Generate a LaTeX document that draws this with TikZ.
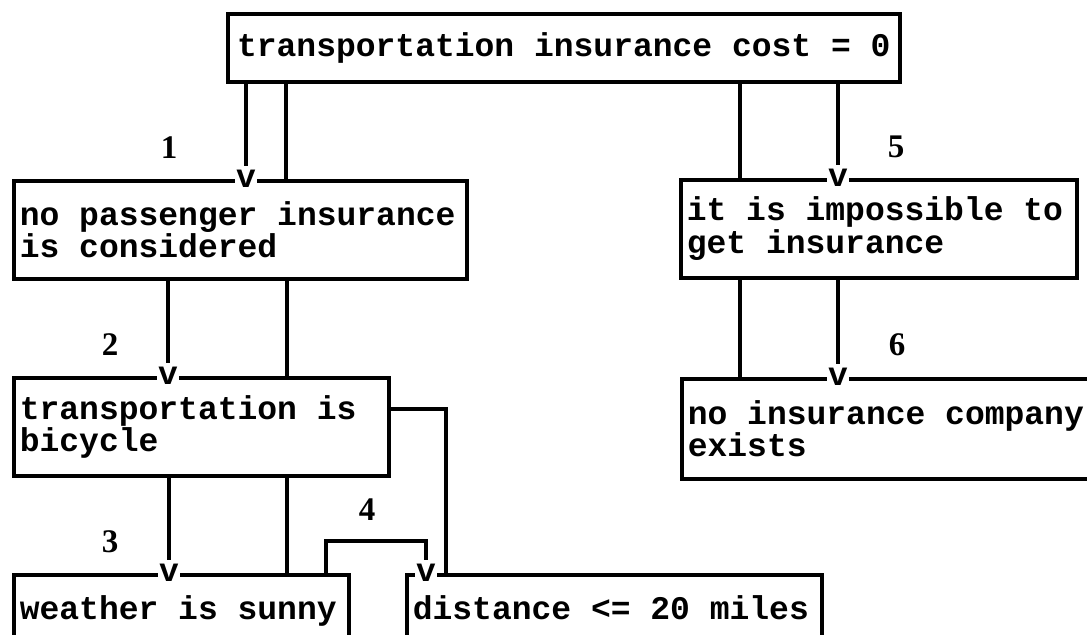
\documentclass[tikz,border=0pt]{standalone}
\usepackage{fontspec}
\setmainfont{Liberation Serif}
\setmonofont{Liberation Mono}
\usepackage{tikz}

\tikzset{
  box/.style={draw, line width=1.8pt, anchor=north west, inner xsep=3pt, inner ysep=0pt,
    align=left, font=\ttfamily\bfseries\fontsize{16.5}{16.3}\selectfont,
    execute at begin node={\spaceskip=0.6em\xspaceskip=0.6em\relax}},
  vtip/.style={fill=white, inner xsep=0.6pt, inner ysep=0pt,
    font=\ttfamily\bfseries\fontsize{16.5}{16.3}\selectfont},
  num/.style={font=\bfseries\fontsize{16.5}{16.3}\selectfont},
  link/.style={line width=1.8pt},
}

\begin{document}
\begin{tikzpicture}[x=0.5pt, y=-0.5pt]
  \clip (0,0) rectangle (1087,635);
  % The boxes
  \node[box, minimum width=336pt, minimum height=34pt, align=center] (cost) at (226,12)
    {transportation insurance cost = 0};
  \node[box, minimum width=226.5pt, minimum height=49pt, text width=220.5pt] (passenger) at (12,179)
    {no passenger insurance\\is considered};
  \node[box, minimum width=198pt, minimum height=49pt, text width=192pt] (impossible) at (679,178)
    {it is impossible to\\get insurance};
  \node[box, minimum width=187.5pt, minimum height=49pt, text width=181.5pt] (bicycle) at (12,376)
    {transportation is\\bicycle};
  \node[box, minimum width=225pt, minimum height=50pt, text width=219pt] (company) at (680,377)
    {no insurance company\\exists};
  \node[box, minimum width=167.5pt, minimum height=49pt, text width=161.5pt] (weather) at (12,573)
    {weather is sunny\\\mbox{}};
  \node[box, minimum width=207.5pt, minimum height=49pt, text width=201.5pt] (distance) at (405,573)
    {distance <= 20 miles\\\mbox{}};

  % Arrow heads
  \node[vtip] (v1) at (passenger.north -| 246,0) {v};
  \node[vtip] (v2) at (bicycle.north -| 168,0) {v};
  \node[vtip] (v3) at (weather.north -| 169,0) {v};
  \node[vtip] (v4) at (distance.north -| 426,0) {v};
  \node[vtip] (v5) at (impossible.north -| 838,0) {v};
  \node[vtip] (v6) at (company.north -| 838,0) {v};

  % Labels
  \node[num] (n1) at (169,148) {1};
  \node[num] (n2) at (110,345) {2};
  \node[num] (n3) at (110,542) {3};
  \node[num] (n4) at (367,510) {4};
  \node[num] (n5) at (896,147) {5};
  \node[num] (n6) at (897,345) {6};

  % Connectors
  \draw[link, shorten >=2pt] (cost.south -| v1) -- (v1.north);
  \draw[link] (cost.south -| 286,0) -- (passenger.north -| 286,0);
  \draw[link] (cost.south -| 740,0) -- (impossible.north -| 740,0);
  \draw[link, shorten >=2pt] (cost.south -| v5) -- (v5.north);

  \draw[link, shorten >=2pt] (passenger.south -| v2) -- (v2.north);
  \draw[link] (passenger.south -| 287,0) -- (bicycle.north -| 287,0);
  \draw[link] (impossible.south -| 740,0) -- (company.north -| 740,0);
  \draw[link, shorten >=2pt] (impossible.south -| v6) -- (v6.north);

  \draw[link, shorten >=2pt] (bicycle.south -| v3) -- (v3.north);
  \draw[link] (bicycle.south -| 287,0) -- (weather.north -| 287,0);
  \draw[link, shorten >=2pt] (weather.north -| 326,0) |- (v4.north |- 0,541) -- (v4.north);
  \draw[link] (bicycle.east |- 0,409) -| (distance.north -| 446,0);
\end{tikzpicture}
\end{document}
